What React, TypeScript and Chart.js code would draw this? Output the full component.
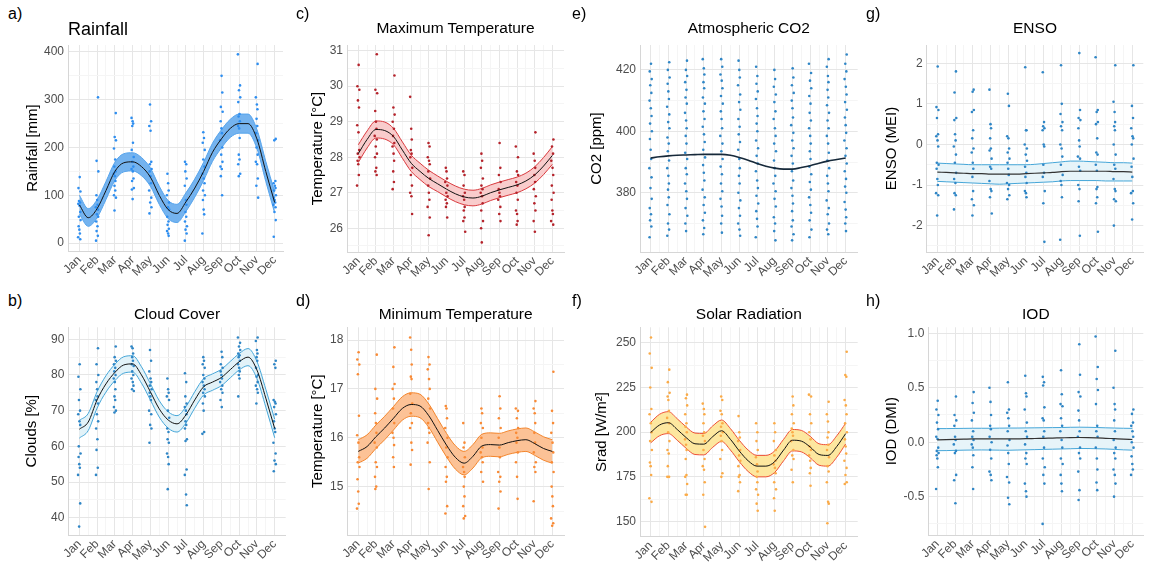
import React, { useEffect, useRef } from "react";
import { Chart, registerables } from "chart.js";
Chart.register(...registerables);

const FONT = "'Liberation Sans', Arial, sans-serif";
const MONTHS = ["Jan", "Feb", "Mar", "Apr", "May", "Jun", "Jul", "Aug", "Sep", "Oct", "Nov", "Dec"];
const MONTH_X = [1, 2, 3, 4, 5, 6, 7, 8, 9, 10, 11, 12];
const X_MINOR = [1.5, 2.5, 3.5, 4.5, 5.5, 6.5, 7.5, 8.5, 9.5, 10.5, 11.5];
const FIT_X = [1, 1.5, 2, 2.5, 3, 3.5, 4, 4.5, 5, 5.5, 6, 6.5, 7, 7.5, 8, 8.5, 9, 9.5, 10, 10.5, 11, 11.5, 12];
const JIT = [0.02, -0.05, 0.06, -0.02, 0.04, -0.06, 0.01, 0.05, -0.03, 0.07, -0.04, 0.0, 0.03, -0.07, 0.05, -0.01, 0.06, -0.05, 0.02, -0.03, 0.04, -0.06, 0.0, 0.03, -0.02];

// a) Rainfall
const RAIN_PTS = [
  [138, 115, 108, 88, 85, 82, 78, 65, 55, 48, 35, 28, 20, 12, 8],
  [305, 172, 150, 100, 90, 80, 75, 70, 60, 55, 45, 35, 25, 15, 5],
  [272, 222, 215, 198, 175, 160, 150, 145, 140, 130, 120, 110, 100, 95, 68],
  [262, 255, 250, 245, 210, 195, 180, 170, 160, 155, 150, 135, 130, 115, 112, 92],
  [290, 255, 245, 235, 170, 165, 155, 150, 140, 125, 110, 95, 85, 75, 62],
  [145, 125, 110, 100, 85, 75, 70, 55, 45, 38, 30, 25, 20, 15],
  [170, 165, 150, 135, 120, 90, 80, 65, 55, 45, 35, 28, 20, 5],
  [232, 220, 210, 195, 175, 160, 145, 135, 125, 110, 100, 90, 70, 60, 20],
  [350, 315, 285, 275, 255, 240, 230, 215, 200, 185, 170, 160, 155, 140, 100],
  [395, 330, 320, 305, 295, 270, 265, 255, 245, 240, 220, 185, 175, 165, 145, 140],
  [375, 305, 290, 280, 260, 245, 230, 215, 200, 185, 170, 165, 135, 120, 95],
  [218, 215, 130, 125, 120, 115, 110, 100, 95, 90, 85, 80, 75, 65, 48, 13],
];
const RAIN_FIT = [80, 53, 72, 110, 150, 168, 170, 160, 138, 100, 70, 62, 86, 115, 150, 190, 218, 240, 250, 250, 218, 150, 85];
const RAIN_HI = [100, 72, 91, 129, 169, 187, 189, 179, 157, 119, 89, 81, 105, 134, 169, 209, 237, 259, 270, 270, 238, 171, 107];
const RAIN_LO = [60, 35, 53, 91, 131, 149, 151, 141, 119, 81, 51, 43, 66, 96, 131, 171, 199, 221, 230, 230, 198, 129, 63];
const RAIN_YMAJ = [0, 100, 200, 300, 400];
const RAIN_YMIN = [50, 150, 250, 350];

// c) Maximum temperature
const TMAX_PTS = [
  [30.6, 30.0, 29.9, 29.6, 29.4, 28.9, 28.7, 28.2, 28.1, 28.0, 27.9, 27.8, 27.5, 27.2],
  [30.9, 29.9, 29.8, 29.3, 29.0, 28.8, 28.6, 28.5, 28.3, 28.1, 28.0, 27.7, 27.6, 27.5],
  [30.3, 29.4, 29.2, 29.0, 28.8, 28.6, 28.4, 28.3, 28.1, 27.9, 27.6, 27.3, 27.1],
  [29.7, 28.8, 28.5, 28.2, 28.1, 28.0, 27.7, 27.5, 27.2, 27.0, 26.9, 26.4],
  [28.4, 28.3, 28.0, 27.9, 27.8, 27.6, 27.4, 27.2, 27.0, 26.8, 26.6, 26.3, 25.8],
  [27.7, 27.6, 27.4, 27.3, 27.2, 27.0, 26.9, 26.8, 26.7, 26.6, 26.3],
  [27.6, 27.5, 27.2, 27.0, 26.9, 26.8, 26.6, 26.5, 26.3, 26.2, 25.9],
  [28.1, 27.9, 27.7, 27.4, 27.2, 27.1, 27.0, 26.9, 26.7, 26.5, 26.2, 26.0, 25.6],
  [28.4, 27.7, 27.5, 27.3, 27.1, 27.0, 26.9, 26.8, 26.6, 26.4, 26.2],
  [28.3, 28.0, 27.6, 27.5, 27.3, 27.2, 27.0, 26.8, 26.5, 26.4, 26.2, 26.1],
  [28.7, 28.1, 27.9, 27.7, 27.5, 27.3, 27.1, 26.9, 26.7, 26.5, 26.2, 25.9],
  [28.5, 28.3, 28.1, 27.9, 27.7, 27.5, 27.2, 27.0, 26.8, 26.5, 26.4, 26.2, 26.1],
];
const TMAX_FIT = [28.1, 28.5, 28.78, 28.75, 28.58, 28.2, 27.83, 27.6, 27.4, 27.25, 27.1, 26.97, 26.88, 26.85, 26.9, 27.0, 27.08, 27.15, 27.22, 27.33, 27.5, 27.75, 28.05];
const TMAX_HI = [28.35, 28.74, 29.02, 28.99, 28.81, 28.43, 28.06, 27.83, 27.63, 27.47, 27.32, 27.19, 27.1, 27.07, 27.12, 27.22, 27.3, 27.37, 27.44, 27.55, 27.73, 27.99, 28.3];
const TMAX_LO = [27.85, 28.26, 28.54, 28.51, 28.35, 27.97, 27.6, 27.37, 27.17, 27.03, 26.88, 26.75, 26.66, 26.63, 26.68, 26.78, 26.86, 26.93, 27.0, 27.11, 27.27, 27.51, 27.8];
const TMAX_YMAJ = [26, 27, 28, 29, 30, 31];
const TMAX_YMIN = [25.5, 26.5, 27.5, 28.5, 29.5, 30.5];

// e) CO2
const CO2_PTS = [
  [422, 419.5, 417, 415, 412.5, 410, 407.5, 405, 402.5, 400, 397.5, 394, 391, 388, 385, 381.5, 378, 375, 373, 371, 369, 365.5],
  [422.5, 420, 417.5, 415.5, 413, 410.5, 408, 405.5, 403, 401, 398, 396, 393.5, 390.5, 388, 385.5, 383, 381, 378.5, 376, 373, 370, 368, 366],
  [423, 420, 418, 416, 413.5, 411, 409, 406, 403.5, 401, 398.5, 396, 393, 391, 388, 386, 383, 380.5, 378, 375, 372.5, 370, 367.5],
  [423.5, 420.5, 418.5, 416, 414, 411, 409, 406.5, 404, 401.5, 399, 396.5, 394, 391.5, 389, 386.5, 384, 381, 378.5, 376, 373.5, 371, 368.5, 366.5],
  [423.5, 421, 418.5, 416.5, 414, 411.5, 409, 406.5, 404, 401, 398.5, 396, 393.5, 391, 388.5, 386, 383, 380.5, 378, 375.5, 372.5, 370, 367],
  [423, 420, 417.5, 415, 412, 409.5, 407, 404, 401.5, 399, 396.5, 394, 391, 388, 385.5, 383, 380, 377.5, 375, 372.5, 370, 368, 366],
  [421, 418, 415.5, 413, 410.5, 407.5, 405, 402.5, 400, 397, 394.5, 392, 389.5, 387, 384, 381.5, 379, 376.5, 374, 371.5, 369, 365.5],
  [420, 417, 414.5, 412, 409.5, 406.5, 404, 401, 398.5, 396, 393.5, 390.5, 388, 385.5, 383, 380.5, 378, 375.5, 372, 370, 367.5, 364.5],
  [420.5, 417.5, 415, 412.5, 410, 407.5, 404.5, 402, 399.5, 397, 394.5, 392, 389.5, 387, 384, 381.5, 379, 376.5, 374, 371, 369, 366.5, 364.5],
  [422, 419, 416.5, 414, 411.5, 409, 406, 403.5, 401, 398.5, 396, 393.5, 391, 388.5, 386, 383.5, 381, 378.5, 376, 373.5, 371, 368, 365.5],
  [423.5, 421, 418, 416, 413.5, 411, 408.5, 406, 403.5, 401, 398.5, 396, 393, 390.5, 388, 385.5, 383, 380.5, 377.5, 375, 373, 370, 368, 366.5],
  [425, 422, 419.5, 417, 414.5, 412, 409.5, 407, 404.5, 402, 399.5, 397, 394.5, 392, 389.5, 387, 384.5, 382, 380, 377, 374.5, 372, 370, 367.5],
];
const CO2_FIT = [391.3, 391.7, 392, 392.2, 392.3, 392.4, 392.5, 392.5, 392.5, 392.2, 391.5, 390.6, 389.5, 388.6, 388, 387.7, 387.7, 388.2, 388.8, 389.6, 390.3, 390.8, 391.3];
const CO2_YMAJ = [380, 400, 420];
const CO2_YMIN = [370, 390, 410];

// g) ENSO
const ENSO_PTS = [
  [1.92, 0.92, 0.85, 0.65, 0.25, 0.2, 0.1, -0.05, -0.45, -0.5, -0.6, -0.85, -1.0, -1.2, -1.25, -1.75],
  [1.8, 1.28, 0.65, 0.6, 0.25, 0.1, -0.05, -0.25, -0.45, -0.7, -0.85, -0.95, -1.2, -1.25, -1.6],
  [1.35, 1.3, 0.85, 0.8, 0.35, 0.15, -0.1, -0.2, -0.45, -0.6, -0.8, -1.15, -1.35, -1.5, -1.75],
  [1.35, 0.5, 0.4, 0.15, -0.1, -0.15, -0.35, -0.55, -0.6, -0.9, -1.1, -1.15, -1.3, -1.7],
  [1.25, 0.95, 0.2, 0.15, -0.1, -0.2, -0.35, -0.45, -0.6, -0.75, -0.95, -1.0, -1.1, -1.25, -1.35],
  [1.9, 0.35, 0.35, 0.0, -0.1, -0.25, -0.4, -0.55, -0.7, -0.8, -0.95, -1.15, -1.2, -1.3],
  [1.78, 0.55, 0.45, 0.4, 0.35, 0.0, -0.05, -0.5, -0.7, -0.8, -1.15, -1.45, -2.4],
  [1.95, 1.0, 0.75, 0.55, 0.45, 0.35, 0.0, -0.1, -0.3, -0.5, -0.75, -0.9, -1.0, -1.3, -2.35],
  [2.25, 0.85, 0.65, 0.6, 0.4, 0.1, -0.05, -0.3, -0.35, -0.55, -0.65, -1.0, -1.1, -1.4, -2.25],
  [2.15, 0.85, 0.8, 0.55, 0.5, 0.15, -0.2, -0.25, -0.5, -0.65, -1.05, -1.1, -1.3, -1.45, -2.15],
  [1.95, 1.05, 0.8, 0.55, 0.45, 0.35, 0.0, -0.25, -0.5, -0.6, -0.85, -1.1, -1.15, -1.35, -1.4, -2.0],
  [1.95, 0.95, 0.65, 0.4, 0.2, 0.15, 0.0, -0.35, -0.55, -0.8, -1.15, -1.2, -1.45, -1.85],
];
const ENSO_FIT = [-0.68, -0.69, -0.7, -0.71, -0.72, -0.72, -0.73, -0.73, -0.73, -0.73, -0.72, -0.71, -0.7, -0.69, -0.67, -0.66, -0.66, -0.66, -0.66, -0.66, -0.67, -0.67, -0.68];
const ENSO_HI = [-0.46, -0.47, -0.48, -0.49, -0.5, -0.5, -0.5, -0.5, -0.5, -0.5, -0.5, -0.49, -0.47, -0.45, -0.43, -0.41, -0.41, -0.42, -0.43, -0.44, -0.45, -0.45, -0.46];
const ENSO_LO = [-0.91, -0.92, -0.93, -0.94, -0.95, -0.96, -0.97, -0.98, -0.97, -0.96, -0.95, -0.94, -0.93, -0.92, -0.9, -0.89, -0.89, -0.89, -0.89, -0.9, -0.9, -0.9, -0.9];
const ENSO_YMAJ = [-2, -1, 0, 1, 2];
const ENSO_YMIN = [-2.5, -1.5, -0.5, 0.5, 1.5];

// b) Cloud cover
const CLOUD_PTS = [
  [83, 79.5, 76, 73, 70, 69, 67, 66, 60, 58, 57, 55, 54, 52, 44, 37.5],
  [87.5, 83, 80, 78, 76, 74, 73, 72, 69, 67, 65, 62, 59, 54, 52],
  [88, 85, 84, 83, 82, 81, 80, 79, 78, 76, 74, 73, 71, 70, 69.5],
  [88, 87.5, 86, 85, 84, 83, 82.5, 81, 80, 79, 78, 77, 76, 75.5],
  [87, 84, 81, 79, 78, 77, 76, 75, 74, 73, 70, 69, 66, 65, 61],
  [79, 76, 75, 74, 73, 70, 68, 65, 64, 62, 61, 58, 57, 55, 48],
  [80.5, 78, 74, 72, 71, 70, 69, 67, 66, 65, 62, 61.5, 53.5, 52, 46.5, 43.5],
  [85, 84, 83, 82, 80, 79, 78, 77, 76, 75, 74, 72, 70, 64, 63.5],
  [86.5, 85, 83, 82, 81, 80, 79, 78, 77, 76, 75, 73, 71],
  [90.5, 89, 88, 87, 86, 85.5, 85, 84, 83, 82, 81, 80, 79, 74],
  [90.5, 89.5, 87, 86, 85, 84, 82, 80, 79.5, 78, 77, 76, 75, 72],
  [84, 83, 82, 73, 72.5, 72, 71, 69, 67, 65, 64, 61, 58, 56, 55, 53],
];
const CLOUD_FIT = [64.8, 66.8, 73, 77.5, 80.7, 82.8, 83.1, 80, 75.3, 70.5, 67.4, 66.3, 68.8, 73, 76.7, 78, 79.3, 81.5, 83.7, 85, 81.4, 73.5, 65];
const CLOUD_HI = [67.3, 69.2, 75.3, 79.8, 83, 85.1, 85.4, 82.3, 77.6, 72.8, 69.7, 68.6, 71.1, 75.3, 79, 80.3, 81.6, 83.8, 86, 87.4, 83.8, 76, 67.6];
const CLOUD_LO = [62.3, 64.4, 70.7, 75.2, 78.4, 80.5, 80.8, 77.7, 73, 68.2, 65.1, 64, 66.5, 70.7, 74.4, 75.7, 77, 79.2, 81.4, 82.6, 79, 71, 62.4];
const CLOUD_YMAJ = [40, 50, 60, 70, 80, 90];
const CLOUD_YMIN = [35, 45, 55, 65, 75, 85];

// d) Minimum temperature
const TMIN_PTS = [
  [17.75, 17.6, 17.5, 17.3, 16.45, 16.05, 15.9, 15.6, 15.5, 15.4, 15.15, 14.9, 14.65, 14.55],
  [17.7, 17.0, 16.8, 16.5, 16.3, 16.1, 15.9, 15.8, 15.5, 15.4, 15.2, 15.0, 14.95],
  [17.85, 17.45, 17.1, 17.0, 16.8, 16.6, 16.3, 16.1, 16.0, 15.85, 15.6, 15.4],
  [18.05, 17.8, 17.5, 17.25, 17.2, 16.9, 16.7, 16.5, 16.3, 16.2, 15.9, 15.75, 15.45],
  [17.65, 17.5, 17.4, 17.2, 17.0, 16.8, 16.6, 16.3, 16.2, 16.1, 15.9, 15.5, 14.95],
  [16.65, 16.6, 16.4, 16.2, 16.0, 15.8, 15.6, 15.4, 15.2, 15.1, 14.6, 14.45],
  [16.3, 15.9, 15.8, 15.6, 15.4, 15.3, 15.2, 15.0, 14.8, 14.6, 14.4, 14.35],
  [16.6, 16.5, 16.3, 16.2, 16.0, 15.8, 15.7, 15.6, 15.5, 15.3, 15.1],
  [16.85, 16.6, 16.4, 16.2, 16.0, 15.8, 15.6, 15.3, 15.2, 15.1, 14.9, 14.55],
  [16.6, 16.55, 16.4, 16.2, 16.1, 16.0, 15.9, 15.7, 15.5, 15.2, 14.75],
  [16.75, 16.6, 16.5, 16.3, 16.1, 15.9, 15.7, 15.5, 15.4, 15.3, 14.7],
  [17.35, 16.55, 16.3, 16.1, 15.9, 15.7, 15.5, 15.3, 15.0, 14.8, 14.6, 14.35, 14.25, 14.2],
];
const TMIN_FIT = [15.72, 15.82, 16.02, 16.2, 16.4, 16.6, 16.68, 16.65, 16.45, 16.15, 15.85, 15.6, 15.48, 15.62, 15.83, 15.86, 15.85, 15.9, 15.94, 15.96, 15.88, 15.78, 15.72];
const TMIN_HI = [15.96, 16.06, 16.26, 16.44, 16.64, 16.84, 16.92, 16.89, 16.69, 16.39, 16.09, 15.84, 15.72, 15.86, 16.07, 16.1, 16.09, 16.14, 16.18, 16.2, 16.12, 16.02, 15.96];
const TMIN_LO = [15.48, 15.58, 15.78, 15.96, 16.16, 16.36, 16.44, 16.41, 16.21, 15.91, 15.61, 15.36, 15.24, 15.38, 15.59, 15.62, 15.61, 15.66, 15.7, 15.72, 15.64, 15.54, 15.48];
const TMIN_YMAJ = [15, 16, 17, 18];
const TMIN_YMIN = [14.5, 15.5, 16.5, 17.5];

// f) Solar radiation
const SRAD_PTS = [
  [253, 244, 236, 225, 213, 210, 205, 200, 195, 190, 183, 181, 176, 163, 161],
  [235, 228, 222, 220, 218, 212, 208, 205, 200, 195, 190, 188, 181, 175, 175],
  [221, 219, 215, 210, 205, 203, 200, 196, 193, 190, 185, 176, 175, 171, 165, 165],
  [216, 213, 210, 205, 200, 198, 195, 190, 185, 181, 179, 172, 165, 147],
  [220, 218, 212, 210, 205, 203, 200, 198, 195, 190, 185, 177, 175],
  [209, 200, 197, 195, 190, 187, 184, 181, 176, 175, 172, 167],
  [205, 200, 195, 190, 186, 182, 178, 175, 172, 168, 165, 160, 156],
  [205, 200, 195, 190, 187, 184, 182, 180, 177, 172, 168, 163, 156],
  [220, 215, 210, 205, 202, 200, 198, 195, 190, 187, 185, 179, 172],
  [221, 220, 210, 205, 200, 196, 192, 190, 187, 184, 180, 177, 170],
  [217, 210, 206, 200, 197, 193, 190, 186, 181, 178, 172, 161, 160, 149],
  [245, 232, 231, 218, 215, 210, 205, 200, 196, 192, 188, 184, 180, 176, 172, 171],
];
const SRAD_FIT = [199.8, 204, 205.3, 201.5, 197, 193.5, 193.3, 197.5, 200.8, 196, 189.5, 184, 181, 181, 183.5, 190, 195.5, 195, 191.7, 187.5, 187, 192, 199.2];
const SRAD_HI = [205.5, 210, 211.5, 207.5, 203, 199.5, 199.3, 203.5, 206.8, 202, 195.5, 190, 187, 187, 189.5, 196, 201.5, 201, 197.7, 193.5, 193, 198, 205];
const SRAD_LO = [194, 198, 199.2, 195.5, 191, 187.5, 187.3, 191.5, 194.8, 190, 183.5, 178, 175, 175, 177.5, 184, 189.5, 189, 185.7, 181.5, 181, 186, 193.4];
const SRAD_YMAJ = [150, 175, 200, 225, 250];
const SRAD_YMIN = [162.5, 187.5, 212.5, 237.5];

// h) IOD
const IOD_PTS = [
  [0.38, 0.3, 0.25, 0.18, 0.12, 0.05, 0.03, -0.05, -0.08, -0.1, -0.12, -0.15, -0.23, -0.43],
  [0.42, 0.25, 0.2, 0.15, 0.05, 0.02, -0.02, -0.08, -0.1, -0.3, -0.35, -0.56],
  [0.46, 0.36, 0.27, 0.2, 0.1, 0.05, 0.02, -0.02, -0.05, -0.12, -0.23, -0.43],
  [0.5, 0.37, 0.25, 0.15, 0.12, 0.05, 0.0, -0.07, -0.15, -0.27, -0.3, -0.35],
  [0.55, 0.3, 0.27, 0.22, 0.15, 0.1, 0.02, -0.03, -0.1, -0.2, -0.32, -0.37, -0.51, -0.57],
  [0.61, 0.45, 0.42, 0.3, 0.18, 0.1, 0.05, -0.02, -0.1, -0.15, -0.2, -0.38, -0.45, -0.5],
  [0.6, 0.55, 0.52, 0.32, 0.22, 0.2, 0.1, 0.05, -0.05, -0.15, -0.23, -0.3, -0.38, -0.75],
  [0.66, 0.44, 0.35, 0.33, 0.22, 0.15, 0.1, 0.02, -0.05, -0.15, -0.2, -0.3, -0.38, -0.45],
  [0.9, 0.62, 0.46, 0.42, 0.29, 0.2, 0.1, 0.05, -0.05, -0.1, -0.15, -0.27, -0.44, -0.53],
  [0.97, 0.69, 0.58, 0.48, 0.35, 0.15, 0.1, 0.05, -0.05, -0.15, -0.25, -0.37, -0.44],
  [0.84, 0.5, 0.35, 0.3, 0.2, 0.1, 0.02, -0.05, -0.1, -0.15, -0.25, -0.3, -0.38, -0.5],
  [0.3, 0.26, 0.18, 0.15, 0.1, 0.05, 0.0, -0.05, -0.13, -0.2, -0.25, -0.3],
];
const IOD_FIT = [0.022, 0.024, 0.026, 0.028, 0.03, 0.03, 0.03, 0.03, 0.03, 0.031, 0.032, 0.034, 0.036, 0.038, 0.04, 0.042, 0.043, 0.042, 0.04, 0.036, 0.032, 0.028, 0.025];
const IOD_HI = [0.125, 0.125, 0.126, 0.127, 0.128, 0.128, 0.128, 0.129, 0.13, 0.13, 0.131, 0.132, 0.133, 0.134, 0.135, 0.137, 0.138, 0.137, 0.135, 0.132, 0.13, 0.128, 0.127];
const IOD_LO = [-0.078, -0.077, -0.075, -0.073, -0.072, -0.071, -0.072, -0.073, -0.074, -0.072, -0.07, -0.068, -0.066, -0.064, -0.062, -0.06, -0.058, -0.058, -0.06, -0.062, -0.066, -0.07, -0.073];
const IOD_YMAJ = [-0.5, 0, 0.5, 1.0];
const IOD_YMIN = [-0.75, -0.25, 0.25, 0.75];
const IOD_YLAB = ["-0.5", "0.0", "0.5", "1.0"];

type Box = { x: number; y: number; w: number; h: number };
type Area = { L: number; T: number; R: number; B: number };
type Cfg = {
  tag: string; tagX: number; tagY: number;
  title: string; big?: boolean; titleY: number;
  ytitle: string; ytitleX: number;
  pts: number[][]; fit: number[]; hi?: number[]; lo?: number[];
  ptColor: string; bandFill?: string; bandEdge?: string; lineColor: string; lineWidth: number;
  xr: [number, number]; yr: [number, number];
  ymaj: number[]; ymin: number[]; ylab?: string[];
  canvas: Box; area: Area;
};

const PANELS: Cfg[] = [
  {
    tag: "a)", tagX: 8, tagY: 6, title: "Rainfall", big: true, titleY: 20,
    ytitle: "Rainfall [mm]", ytitleX: 33,
    pts: RAIN_PTS, fit: RAIN_FIT, hi: RAIN_HI, lo: RAIN_LO,
    ptColor: "#2e8ef0", bandFill: "#74b3ef", bandEdge: "#56a4ec", lineColor: "#111", lineWidth: 1,
    xr: [0.36, 12.47], yr: [-16.7, 414.6], ymaj: RAIN_YMAJ, ymin: RAIN_YMIN,
    canvas: { x: 0, y: 35, w: 290, h: 255 }, area: { L: 68, T: 45, R: 283, B: 251 },
  },
  {
    tag: "c)", tagX: 296, tagY: 6, title: "Maximum Temperature", titleY: 20,
    ytitle: "Temperature [°C]", ytitleX: 318,
    pts: TMAX_PTS, fit: TMAX_FIT, hi: TMAX_HI, lo: TMAX_LO,
    ptColor: "#b5232b", bandFill: "#f9cccc", bandEdge: "#d9393d", lineColor: "#111", lineWidth: 1,
    xr: [0.36, 12.66], yr: [25.33, 31.16], ymaj: TMAX_YMAJ, ymin: TMAX_YMIN,
    canvas: { x: 290, y: 35, w: 280, h: 255 }, area: { L: 347, T: 45, R: 564, B: 252 },
  },
  {
    tag: "e)", tagX: 572, tagY: 6, title: "Atmospheric CO2", titleY: 20,
    ytitle: "CO2 [ppm]", ytitleX: 597,
    pts: CO2_PTS, fit: CO2_FIT,
    ptColor: "#2f86c6", lineColor: "#16293a", lineWidth: 1.6,
    xr: [0.4, 12.68], yr: [360.7, 428.1], ymaj: CO2_YMAJ, ymin: CO2_YMIN,
    canvas: { x: 574, y: 35, w: 290, h: 255 }, area: { L: 640, T: 45, R: 857.7, B: 252 },
  },
  {
    tag: "g)", tagX: 866, tagY: 6, title: "ENSO", titleY: 20,
    ytitle: "ENSO (MEI)", ytitleX: 892,
    pts: ENSO_PTS, fit: ENSO_FIT, hi: ENSO_HI, lo: ENSO_LO,
    ptColor: "#2f86c6", bandFill: "#e7f4f9", bandEdge: "#45a6d8", lineColor: "#333", lineWidth: 1.2,
    xr: [0.4, 12.62], yr: [-2.65, 2.45], ymaj: ENSO_YMAJ, ymin: ENSO_YMIN,
    canvas: { x: 864, y: 35, w: 285, h: 255 }, area: { L: 926.7, T: 45, R: 1143.3, B: 252 },
  },
  {
    tag: "b)", tagX: 8, tagY: 293, title: "Cloud Cover", titleY: 306,
    ytitle: "Clouds [%]", ytitleX: 32,
    pts: CLOUD_PTS, fit: CLOUD_FIT, hi: CLOUD_HI, lo: CLOUD_LO,
    ptColor: "#2f86c6", bandFill: "#e2f2f8", bandEdge: "#45a6d8", lineColor: "#111", lineWidth: 1,
    xr: [0.38, 12.62], yr: [35.15, 93.36], ymaj: CLOUD_YMAJ, ymin: CLOUD_YMIN,
    canvas: { x: 0, y: 320, w: 292, h: 248 }, area: { L: 68.3, T: 327.3, R: 285.7, B: 535 },
  },
  {
    tag: "d)", tagX: 296, tagY: 293, title: "Minimum Temperature", titleY: 306,
    ytitle: "Temperature [°C]", ytitleX: 318,
    pts: TMIN_PTS, fit: TMIN_FIT, hi: TMIN_HI, lo: TMIN_LO,
    ptColor: "#f98a35", bandFill: "#fcc296", bandEdge: "#f3852c", lineColor: "#111", lineWidth: 1,
    xr: [0.38, 12.66], yr: [14.01, 18.26], ymaj: TMIN_YMAJ, ymin: TMIN_YMIN,
    canvas: { x: 292, y: 320, w: 278, h: 248 }, area: { L: 347.3, T: 327.3, R: 564, B: 535 },
  },
  {
    tag: "f)", tagX: 572, tagY: 293, title: "Solar Radiation", titleY: 306,
    ytitle: "Srad [W/m²]", ytitleX: 602,
    pts: SRAD_PTS, fit: SRAD_FIT, hi: SRAD_HI, lo: SRAD_LO,
    ptColor: "#fbab48", bandFill: "#fde79f", bandEdge: "#ee4f35", lineColor: "#111", lineWidth: 1,
    xr: [0.4, 12.68], yr: [141.5, 258.7], ymaj: SRAD_YMAJ, ymin: SRAD_YMIN,
    canvas: { x: 574, y: 320, w: 290, h: 248 }, area: { L: 640, T: 327.3, R: 857.7, B: 536.7 },
  },
  {
    tag: "h)", tagX: 866, tagY: 293, title: "IOD", titleY: 306,
    ytitle: "IOD (DMI)", ytitleX: 892,
    pts: IOD_PTS, fit: IOD_FIT, hi: IOD_HI, lo: IOD_LO,
    ptColor: "#2f86c6", bandFill: "#e7f4f9", bandEdge: "#45a6d8", lineColor: "#333", lineWidth: 1.2,
    xr: [0.49, 12.62], yr: [-0.852, 1.055], ymaj: IOD_YMAJ, ymin: IOD_YMIN, ylab: IOD_YLAB,
    canvas: { x: 864, y: 320, w: 285, h: 248 }, area: { L: 928.3, T: 327.3, R: 1143.3, B: 535 },
  },
];

const GRID_MAJ = "#e6e6e6";
const GRID_MIN = "#f5f5f5";

function Panel({ cfg }: { cfg: Cfg }) {
  const ref = useRef<HTMLCanvasElement>(null);
  useEffect(() => {
    if (!ref.current) return;
    const { canvas, area } = cfg;
    const scatter: { x: number; y: number }[] = [];
    cfg.pts.forEach((arr, m) =>
      arr.forEach((v, i) => scatter.push({ x: MONTH_X[m] + JIT[(i + m * 7) % JIT.length], y: v }))
    );
    const curve = (vals: number[]) => FIT_X.map((x, i) => ({ x, y: vals[i] }));
    const datasets: any[] = [
      {
        type: "line", data: curve(cfg.fit), borderColor: cfg.lineColor, borderWidth: cfg.lineWidth,
        pointRadius: 0, cubicInterpolationMode: "monotone", fill: false, order: 0,
      },
      {
        type: "scatter", data: scatter, pointRadius: 1.3, pointBorderWidth: 0,
        pointBackgroundColor: cfg.ptColor, backgroundColor: cfg.ptColor, order: 1,
      },
    ];
    if (cfg.hi && cfg.lo) {
      datasets.push({
        type: "line", data: curve(cfg.hi), borderColor: cfg.bandEdge, borderWidth: 1,
        backgroundColor: cfg.bandFill, fill: 3, pointRadius: 0, cubicInterpolationMode: "monotone", order: 2,
      });
      datasets.push({
        type: "line", data: curve(cfg.lo), borderColor: cfg.bandEdge, borderWidth: 1,
        fill: false, pointRadius: 0, cubicInterpolationMode: "monotone", order: 3,
      });
    }
    const yAll = [...cfg.ymaj, ...cfg.ymin].sort((a, b) => a - b);
    const xAll = [...MONTH_X, ...X_MINOR].sort((a, b) => a - b);
    const chart = new Chart(ref.current, {
      type: "scatter",
      data: { datasets },
      options: {
        animation: false,
        responsive: false,
        devicePixelRatio: 1,
        layout: { padding: { left: 0, top: area.T - canvas.y, right: canvas.x + canvas.w - area.R, bottom: 0 } },
        plugins: {
          legend: { display: false },
          tooltip: { enabled: false },
          filler: { drawTime: "beforeDatasetsDraw" } as any,
        },
        scales: {
          x: {
            type: "linear", min: cfg.xr[0], max: cfg.xr[1],
            afterBuildTicks: (s: any) => { s.ticks = xAll.map((v) => ({ value: v })); },
            afterFit: (s: any) => {
              s.height = canvas.y + canvas.h - area.B;
              s.paddingLeft = 0; s.paddingRight = 0;
            },
            ticks: {
              autoSkip: false, minRotation: 45, maxRotation: 45, padding: 2, color: "#4d4d4d",
              font: { size: 12, family: FONT },
              callback: (v: any) => { const k = MONTH_X.indexOf(v); return k >= 0 ? MONTHS[k] : ""; },
            },
            grid: {
              drawTicks: false,
              color: (c: any) => (c.tick && MONTH_X.includes(c.tick.value) ? GRID_MAJ : GRID_MIN),
            },
            border: { display: true, color: "#d6d6d6" },
          },
          y: {
            type: "linear", min: cfg.yr[0], max: cfg.yr[1],
            afterBuildTicks: (s: any) => { s.ticks = yAll.map((v) => ({ value: v })); },
            afterFit: (s: any) => {
              s.width = area.L - canvas.x;
              s.paddingTop = 0; s.paddingBottom = 0;
            },
            ticks: {
              autoSkip: false, padding: 4, color: "#4d4d4d", font: { size: 12, family: FONT },
              callback: (v: any) => {
                const k = cfg.ymaj.indexOf(v);
                if (k < 0) return "";
                return cfg.ylab ? cfg.ylab[k] : String(v);
              },
            },
            grid: {
              drawTicks: false,
              color: (c: any) => (c.tick && cfg.ymaj.includes(c.tick.value) ? GRID_MAJ : GRID_MIN),
            },
            border: { display: true, color: "#d6d6d6" },
            title: {
              display: true, text: cfg.ytitle, color: "#000",
              font: { size: 15, family: FONT },
              padding: { top: cfg.ytitleX - canvas.x - 9, bottom: 0 },
            },
          },
        },
      } as any,
    });
    return () => chart.destroy();
  }, [cfg]);

  const { canvas, area } = cfg;
  return (
    <>
      <canvas
        ref={ref}
        width={canvas.w}
        height={canvas.h}
        style={{ position: "absolute", left: canvas.x, top: canvas.y, width: canvas.w, height: canvas.h }}
      />
      <div style={{ position: "absolute", left: cfg.tagX, top: cfg.tagY, font: `16px ${FONT}`, lineHeight: "16px", color: "#000" }}>
        {cfg.tag}
      </div>
      {cfg.big ? (
        <div style={{ position: "absolute", left: area.L, top: cfg.titleY, font: `18px ${FONT}`, lineHeight: "18px", color: "#000", whiteSpace: "nowrap" }}>
          {cfg.title}
        </div>
      ) : (
        <div style={{ position: "absolute", left: area.L, width: area.R - area.L, top: cfg.titleY, textAlign: "center", font: `15.5px ${FONT}`, lineHeight: "15.5px", color: "#000", whiteSpace: "nowrap" }}>
          {cfg.title}
        </div>
      )}
    </>
  );
}

export default function App() {
  return (
    <div style={{ position: "absolute", left: 0, top: 0, width: 1149, height: 568, background: "#fff", overflow: "hidden" }}>
      {PANELS.map((p) => (
        <Panel key={p.tag} cfg={p} />
      ))}
    </div>
  );
}
